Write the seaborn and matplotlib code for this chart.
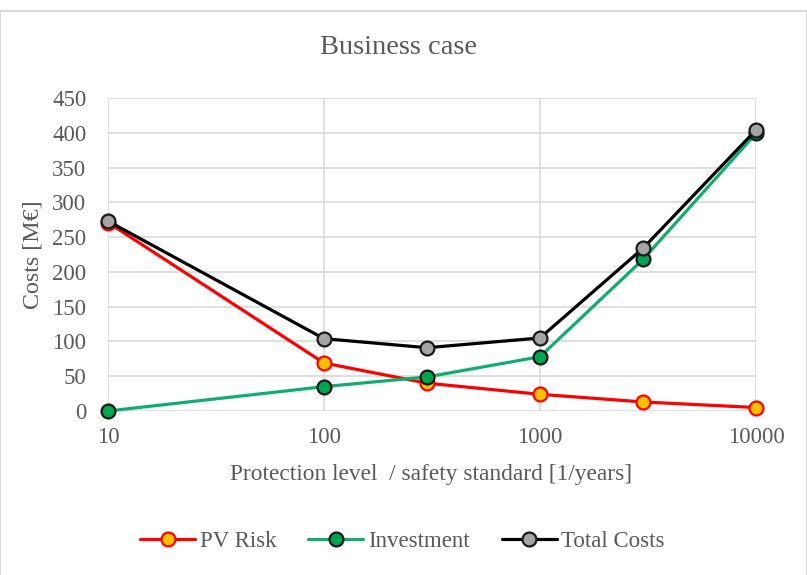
import matplotlib
matplotlib.use("Agg")
import matplotlib.pyplot as plt
import seaborn as sns
import pandas as pd
from matplotlib.patches import Rectangle

protection = [10, 100, 300, 1000, 3000, 10000]
pv_risk = [271, 69, 40, 24, 13, 5]
investment = [0, 35, 49, 78, 218, 399]
total_costs = [273, 104, 91, 105, 234, 404]
series_names = ["PV Risk", "Investment", "Total Costs"]
y_ticks = [0, 50, 100, 150, 200, 250, 300, 350, 400, 450]
x_ticks = [10, 100, 1000, 10000]

sns.set_theme(style="white")
plt.rcParams["font.family"] = ["Liberation Serif", "DejaVu Serif"]
text_color = "#595959"

W, H = 807, 575
fig = plt.figure(figsize=(W / 100, H / 100), dpi=100)
L, R, T, B = 108, 756, 98, 411
ax = fig.add_axes([L / W, 1 - B / H, (R - L) / W, (B - T) / H])

styles = [
    dict(color="#FF0000", mfc="#FFC000", mec="#FF0000"),
    dict(color="#10AE6E", mfc="#00A54F", mec="#1A1A1A"),
    dict(color="#000000", mfc="#A5A5A5", mec="#1A1A1A"),
]
values = [pv_risk, investment, total_costs]
for name, vals, st in zip(series_names, values, styles):
    df = pd.DataFrame({"x": protection, "y": vals})
    sns.lineplot(data=df, x="x", y="y", ax=ax, color=st["color"], linewidth=2.3,
                 marker="o", markersize=10, markerfacecolor=st["mfc"],
                 markeredgecolor=st["mec"], markeredgewidth=1.6, label=name,
                 zorder=3, clip_on=False)

ax.set_xscale("log")
ax.set_xlim(10, 10000)
ax.set_ylim(0, 450)
ax.set_yticks(y_ticks)
ax.set_xticks(x_ticks)
ax.set_xticklabels([str(v) for v in x_ticks])
ax.minorticks_off()
ax.grid(True, which="major", color="#D9D9D9", linewidth=1.2)
for s in ax.spines.values():
    s.set_visible(False)
ax.tick_params(axis="both", length=0, labelsize=16.5, colors=text_color)
ax.tick_params(axis="y", pad=15.5)
ax.tick_params(axis="x", pad=11.5)
for lbl in ax.get_xticklabels() + ax.get_yticklabels():
    lbl.set_color(text_color)

ax.set_xlabel("Protection level  / safety standard [1/years]", fontsize=16.8,
              color=text_color, va="center")
ax.xaxis.set_label_coords((431 - L) / (R - L), (B - 474.5) / (B - T))
ax.set_ylabel("Costs [M€]", fontsize=17.3, color=text_color, va="center")
ax.yaxis.set_label_coords((33 - L) / (R - L), 0.5)

fig.text(399 / W, 1 - 48 / H, "Business case", ha="center", va="center",
         fontsize=20.5, color=text_color)

leg = ax.legend(loc="center", bbox_to_anchor=(402.5 / W, 1 - 541 / H),
                bbox_transform=fig.transFigure, ncol=3, frameon=False,
                fontsize=16.5, handlelength=2.4, columnspacing=1.4,
                handletextpad=0.2)
for t in leg.get_texts():
    t.set_color(text_color)

fig.patches.append(Rectangle((0, -0.01), 1.0, 1 - 11 / H + 0.01,
                             transform=fig.transFigure, fill=False,
                             edgecolor="#D0D0D0", linewidth=1.2))

fig.savefig("out.png", dpi=100)
